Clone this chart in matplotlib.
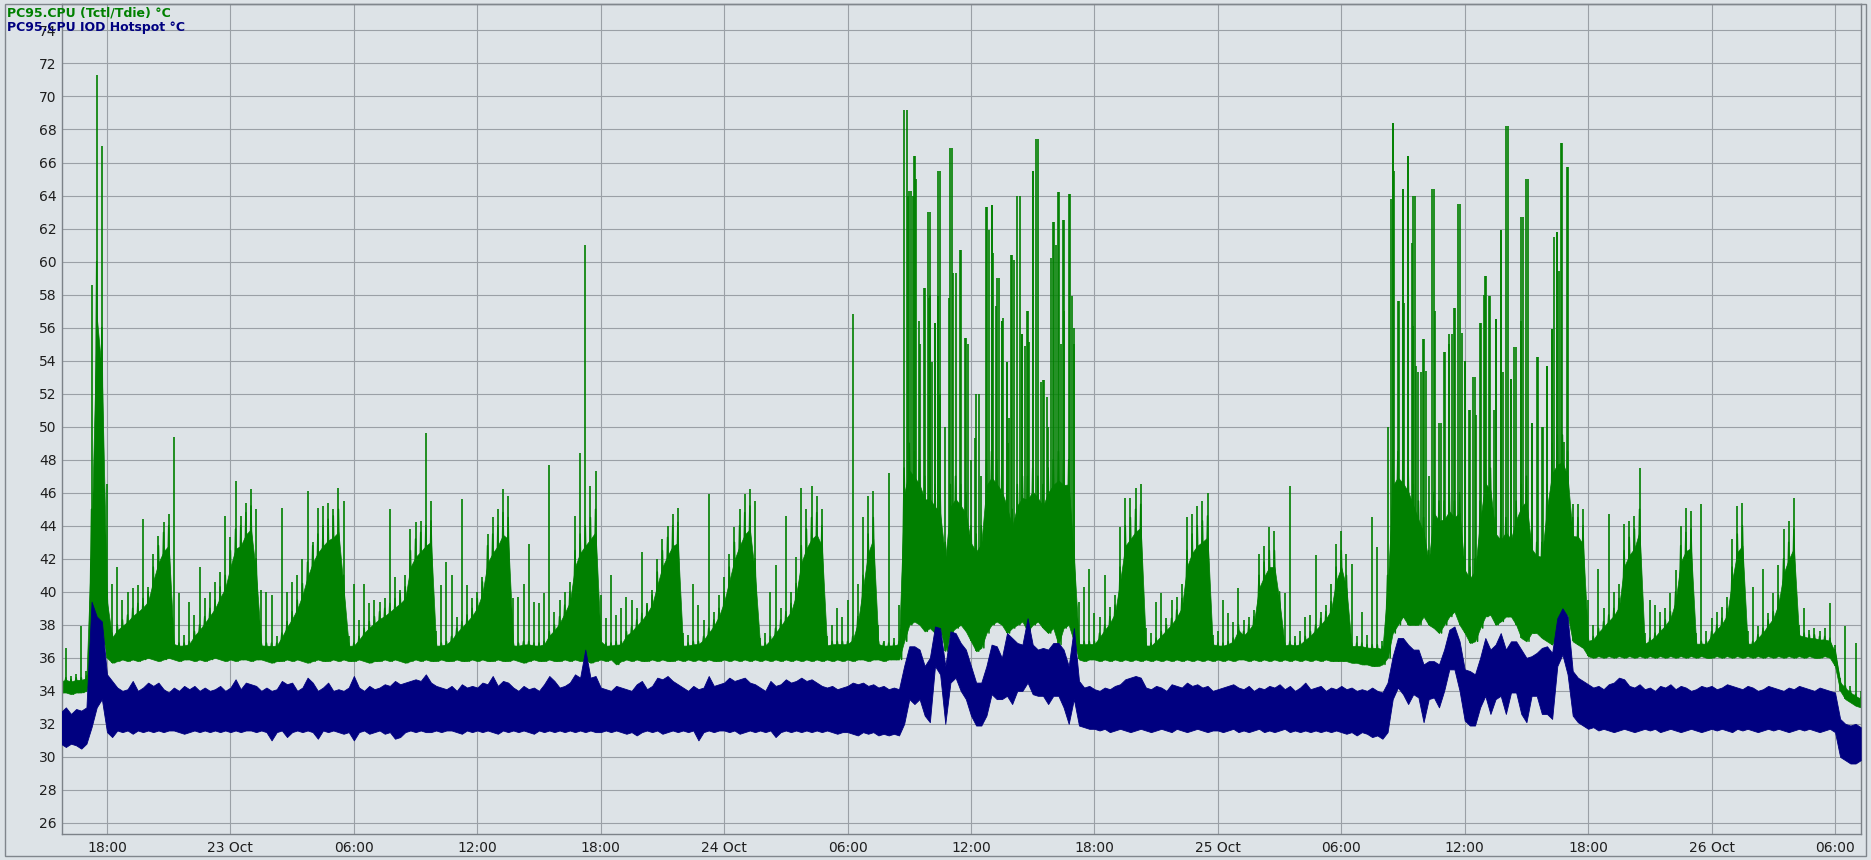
import matplotlib
matplotlib.use("Agg")
import matplotlib.pyplot as plt
import matplotlib.dates as mdates
import pandas as pd
from matplotlib.patches import Rectangle

# sensor log, one sample row per 15 min, 22 Oct 15:45 -> 26 Oct 07:15
start = "2024-10-22 15:45"
green_label = "PC95.CPU (Tctl/Tdie) °C"
blue_label = "PC95.CPU IOD Hotspot °C"
y_ticks = list(range(26, 75, 2))

# Tctl/Tdie: spike tops
green_hi = [
    34.8, 36.6, 34.9, 35.0, 37.9, 35.2, 58.6, 71.3, 67.0,
    46.5, 40.5, 41.5, 39.5, 40.0, 40.2, 40.4, 44.4, 40.3, 42.3, 43.4, 44.2, 44.7, 49.4, 39.9, 37.4, 39.4, 38.6, 41.5, 39.6, 40.0, 40.6, 41.2, 44.6,
    43.3, 46.7, 44.6, 45.4, 46.2, 45.0, 40.1, 40.0, 39.8, 37.3, 45.1, 40.0, 40.6, 41.0, 42.0, 46.1, 43.0, 45.1, 45.2, 45.4, 45.0, 46.3, 45.5, 37.3,
    40.5, 38.3, 40.5, 39.3, 39.5, 39.4, 39.6, 45.0, 40.9, 40.1, 41.0, 43.8, 44.2, 44.3, 49.6, 45.5, 37.6, 40.4, 41.8, 41.0, 38.5, 45.6, 40.4, 39.6,
    40.0, 40.9, 43.5, 44.5, 45.0, 46.2, 45.8, 39.6, 39.7, 40.5, 42.9, 39.4, 39.3, 39.9, 47.7, 38.8, 39.5, 40.0, 40.6, 44.6, 48.4, 61.0, 46.4, 47.3,
    39.8, 38.4, 41.0, 38.6, 39.0, 39.7, 39.5, 39.0, 42.4, 39.3, 40.1, 42.0, 43.2, 44.0, 44.7, 45.1, 37.5, 37.4, 40.5, 39.2, 38.3, 45.9, 38.8, 39.8,
    40.9, 42.3, 43.9, 45.0, 45.9, 46.2, 45.5, 37.2, 37.5, 40.0, 41.6, 39.0, 44.6, 40.0, 42.1, 46.3, 45.0, 46.4, 45.8, 45.0, 37.3, 38.0, 39.0, 38.5,
    39.5, 56.8, 40.5, 44.5, 45.8, 46.1, 38.0, 37.0, 47.2, 37.2, 39.2, 69.2, 64.3, 66.4, 55.0, 58.4, 63.0, 56.3, 65.5, 50.0, 66.9, 59.3, 60.7, 55.4,
    48.0, 52.0, 47.0, 63.3, 63.4, 59.0, 56.4, 53.9, 60.4, 64.0, 55.6, 57.0, 65.5, 67.4, 52.8, 50.0, 62.4, 64.2, 62.5, 64.1, 56.0, 39.4, 40.3, 41.4,
    38.7, 38.5, 41.0, 39.1, 39.8, 43.9, 45.7, 45.7, 46.3, 46.5, 37.8, 37.5, 39.4, 39.9, 38.4, 39.5, 39.7, 40.5, 44.5, 44.7, 45.2, 45.5, 46.0, 37.4,
    37.6, 39.5, 38.7, 38.2, 40.2, 38.3, 38.5, 38.9, 42.3, 42.8, 43.9, 43.7, 38.0, 39.9, 46.4, 37.3, 37.6, 38.5, 38.6, 42.2, 38.8, 39.2, 40.5, 42.9,
    43.7, 42.3, 41.7, 37.3, 38.8, 37.4, 44.5, 42.7, 37.0, 50.0, 68.4, 57.6, 64.4, 66.4, 64.0, 53.3, 55.3, 47.0, 64.4, 50.2, 54.5, 55.6, 57.2, 63.5,
    54.0, 51.0, 53.0, 56.3, 59.1, 57.9, 56.5, 61.9, 68.2, 52.9, 54.8, 62.7, 65.0, 50.2, 54.2, 50.0, 53.7, 55.9, 61.8, 67.2, 65.7, 45.3, 45.3, 45.0,
    39.5, 38.0, 41.4, 39.0, 44.7, 40.0, 40.5, 44.1, 44.3, 44.6, 47.5, 37.5, 39.5, 39.2, 38.8, 39.0, 39.9, 41.3, 44.0, 45.1, 44.9, 37.5, 45.3, 37.6,
    38.4, 38.8, 39.1, 39.7, 43.2, 45.2, 45.4, 37.6, 40.3, 37.9, 41.4, 38.7, 39.9, 41.6, 43.8, 44.3, 45.7, 38.0, 39.0, 37.7, 37.8, 37.6, 37.8, 39.3,
    36.8, 34.8, 37.9, 34.3, 36.9, 34.0,
]

# Tctl/Tdie: top of the dense part
green_mid = [
    34.7, 34.8, 34.7, 34.8, 34.8, 34.9, 45.0, 60.0, 56.0,
    40.0, 37.5, 38.0, 38.3, 38.6, 39.0, 39.3, 39.6, 40.0, 41.5, 42.8, 43.6, 44.0, 37.0, 36.9, 36.9, 37.0, 37.6, 38.0, 38.5, 39.0, 39.5, 40.3, 41.0,
    42.5, 43.8, 44.0, 44.8, 45.2, 42.0, 36.9, 36.9, 36.9, 36.9, 37.5, 38.2, 38.8, 39.5, 40.5, 41.8, 42.8, 43.5, 44.0, 44.4, 44.6, 45.0, 41.0, 36.9,
    36.9, 37.3, 37.8, 38.2, 38.5, 38.8, 39.0, 39.3, 39.6, 39.9, 40.3, 42.5, 43.2, 43.6, 44.0, 44.3, 36.9, 36.9, 37.0, 37.3, 37.8, 38.2, 38.6, 39.0,
    39.6, 40.6, 42.8, 43.5, 44.0, 44.8, 44.5, 36.9, 36.9, 37.0, 37.0, 36.9, 36.9, 37.0, 37.6, 38.0, 38.5, 39.2, 40.0, 42.5, 43.5, 44.0, 44.5, 45.0,
    37.2, 36.9, 36.9, 37.0, 37.0, 37.6, 37.9, 38.3, 38.7, 39.2, 39.8, 41.2, 42.5, 43.3, 44.0, 44.2, 36.9, 36.9, 37.0, 37.0, 37.3, 37.8, 38.3, 39.0,
    40.0, 41.5, 43.0, 44.0, 44.8, 45.2, 42.0, 36.9, 36.9, 37.3, 37.8, 38.3, 38.8, 39.3, 40.5, 42.8, 43.8, 44.5, 44.8, 44.0, 36.9, 37.0, 37.0, 37.0,
    37.0, 37.3, 38.5, 41.0, 43.5, 44.5, 37.0, 36.9, 36.9, 36.9, 37.0, 47.5, 49.0, 48.5, 48.0, 47.0, 47.0, 46.5, 46.0, 43.0, 46.5, 47.0, 46.5, 46.0,
    44.0, 43.5, 44.0, 48.0, 48.5, 48.0, 47.5, 46.5, 45.0, 46.5, 47.0, 47.0, 47.5, 47.0, 46.5, 47.5, 48.0, 48.5, 48.0, 48.0, 43.0, 37.0, 37.0, 37.0,
    37.0, 37.5, 38.0, 38.5, 39.2, 41.5, 44.0, 44.5, 45.0, 45.3, 36.9, 36.9, 37.2, 37.6, 38.0, 38.4, 38.9, 39.6, 42.5, 43.5, 44.0, 44.3, 44.6, 37.0,
    36.9, 36.9, 37.0, 37.2, 38.0, 37.6, 38.0, 38.5, 41.0, 41.8, 42.5, 42.5, 40.0, 36.9, 37.0, 36.9, 37.0, 37.3, 37.6, 38.0, 38.4, 38.8, 39.4, 41.5,
    42.5, 41.0, 36.9, 36.9, 36.9, 36.8, 36.8, 36.8, 36.7, 41.0, 48.0, 48.5, 48.0, 47.5, 46.5, 45.5, 44.5, 42.5, 46.0, 45.5, 45.5, 46.0, 45.5, 46.0,
    42.0, 41.5, 42.0, 45.5, 48.0, 47.5, 44.5, 44.0, 44.5, 44.0, 45.5, 46.5, 47.0, 43.5, 43.0, 43.0, 46.5, 49.0, 49.5, 49.5, 48.5, 44.5, 44.5, 44.0,
    37.2, 37.3, 37.8, 38.2, 38.6, 39.0, 39.6, 42.5, 43.3, 43.8, 45.0, 37.0, 37.2, 37.5, 37.9, 38.3, 38.8, 40.0, 42.8, 43.6, 43.8, 37.0, 37.0, 37.0,
    37.6, 38.0, 38.4, 39.0, 41.5, 43.5, 44.0, 37.0, 37.0, 37.4, 37.8, 38.3, 38.8, 39.8, 42.0, 43.0, 43.8, 37.6, 37.5, 37.4, 37.4, 37.3, 37.3, 37.2,
    36.5, 34.6, 34.3, 34.0, 33.8, 33.6,
]

# Tctl/Tdie: bottom of the band
green_lo = [
    33.9, 33.9, 33.8, 33.9, 33.9, 34.0, 35.0, 38.0, 37.7,
    36.0, 35.7, 35.8, 35.9, 35.8, 35.9, 35.8, 35.9, 36.0, 35.9, 35.8, 35.9, 36.0, 35.9, 35.8, 35.9, 35.9, 35.8, 35.9, 35.8, 35.9, 36.0, 35.9, 35.8,
    35.9, 35.8, 35.9, 35.9, 35.8, 35.9, 35.9, 35.8, 35.7, 35.8, 35.8, 35.9, 35.8, 35.9, 35.8, 35.7, 35.8, 35.9, 35.8, 35.8, 35.9, 35.8, 35.9, 35.8,
    35.8, 35.9, 35.8, 35.7, 35.8, 35.8, 35.9, 35.8, 35.9, 35.8, 35.7, 35.8, 35.9, 35.8, 35.9, 35.8, 35.8, 35.9, 35.8, 35.8, 35.9, 35.8, 35.8, 35.9,
    35.8, 35.9, 35.8, 35.8, 35.9, 35.8, 35.8, 35.9, 35.8, 35.7, 35.8, 35.9, 35.8, 35.8, 35.9, 35.8, 35.8, 35.9, 35.8, 35.9, 35.8, 35.9, 35.7, 35.8,
    35.9, 35.8, 35.9, 35.6, 35.8, 35.9, 35.8, 35.9, 35.8, 35.8, 35.9, 35.8, 35.9, 35.8, 35.8, 35.9, 35.8, 35.9, 35.8, 35.9, 35.8, 35.9, 35.8, 35.8,
    35.9, 35.8, 35.9, 35.8, 35.9, 35.8, 35.9, 35.8, 35.9, 35.8, 35.9, 35.8, 35.9, 35.8, 35.9, 35.8, 35.9, 35.8, 35.9, 35.8, 35.9, 35.8, 35.9, 35.8,
    35.9, 35.8, 35.9, 35.9, 35.8, 35.9, 35.9, 35.8, 35.9, 35.9, 35.9, 37.0, 38.0, 38.2, 38.0, 37.6, 37.8, 37.5, 37.8, 36.4, 37.5, 37.8, 38.0, 37.6,
    37.0, 36.4, 36.6, 37.5, 38.0, 38.2, 38.0, 37.5, 37.8, 38.0, 38.2, 37.6, 38.0, 38.2, 37.8, 37.5, 37.8, 36.8, 37.8, 38.0, 37.0, 35.9, 35.8, 35.9,
    35.9, 35.8, 35.9, 35.8, 35.9, 35.8, 35.9, 35.8, 35.9, 35.8, 35.9, 35.8, 35.9, 35.8, 35.9, 35.8, 35.9, 35.8, 35.9, 35.8, 35.9, 35.8, 35.9, 35.8,
    35.9, 35.8, 35.9, 35.8, 35.9, 35.9, 35.8, 35.9, 35.8, 35.9, 35.8, 35.9, 35.8, 35.9, 35.8, 35.9, 35.8, 35.9, 35.8, 35.9, 35.8, 35.9, 35.8, 35.8,
    35.8, 35.8, 35.7, 35.7, 35.6, 35.6, 35.5, 35.5, 35.6, 36.0, 37.5, 38.0, 38.5, 38.0, 38.0, 38.0, 38.5, 38.0, 37.8, 37.5, 38.0, 38.5, 38.8, 38.0,
    37.5, 36.9, 37.0, 37.8, 38.5, 38.6, 38.0, 38.2, 38.5, 38.5, 38.0, 37.2, 37.0, 37.5, 37.5, 37.2, 37.0, 36.8, 37.5, 38.5, 38.6, 37.0, 36.8, 36.6,
    36.1, 36.0, 36.1, 36.0, 36.1, 36.0, 36.1, 36.0, 36.1, 36.0, 36.1, 36.0, 36.1, 36.0, 36.1, 36.0, 36.1, 36.0, 36.1, 36.0, 36.1, 36.0, 36.1, 36.0,
    36.0, 36.1, 36.0, 36.1, 36.0, 36.1, 36.0, 36.1, 36.0, 36.1, 36.0, 36.1, 36.0, 36.1, 36.0, 36.1, 36.0, 36.1, 36.0, 36.1, 36.0, 36.0, 36.1, 36.0,
    35.5, 34.0, 33.5, 33.3, 33.1, 33.0,
]

# extra spikes read in the two busy spells (time of day, peak)
oct24_spike_times = [
    "08:53", "08:56", "09:05", "09:10", "09:16", "09:21", "09:29", "09:42", "09:55", "09:58",
    "10:00", "10:06", "10:14", "10:23", "10:25", "10:29", "10:55", "11:04", "11:08", "11:28",
    "11:43", "11:52", "12:12", "12:22", "12:47", "12:53", "13:01", "13:05", "13:12", "13:22",
    "13:30", "13:34", "13:45", "13:48", "13:52", "13:58", "14:04", "14:23", "14:29", "14:37",
    "14:42", "14:48", "15:02", "15:10", "15:24", "15:34", "15:43", "15:53", "16:03", "16:08",
    "16:17", "16:22", "16:27", "16:32", "16:50", "16:56", "17:01",
]
oct24_spike_peaks = [
    69.2, 64.0, 64.3, 64.0, 66.4, 65.0, 56.4, 58.4, 63.0, 57.8,
    58.0, 53.9, 56.3, 57.9, 65.5, 52.0, 57.8, 66.9, 59.3, 60.7,
    55.4, 55.0, 49.3, 52.0, 63.3, 61.9, 63.4, 60.5, 57.3, 59.0,
    56.4, 56.6, 53.9, 49.0, 50.5, 60.4, 60.1, 64.0, 55.6, 54.9,
    57.0, 55.1, 65.5, 67.4, 52.7, 52.8, 51.8, 60.2, 62.4, 61.0,
    64.2, 55.0, 62.5, 57.0, 64.1, 57.9, 55.0,
]
oct25_spike_times = [
    "08:24", "08:31", "08:34", "08:49", "08:59", "09:03", "09:16", "09:25", "09:29", "09:35",
    "09:39", "09:52", "09:59", "10:06", "10:26", "10:34", "10:50", "11:02", "11:13", "11:22",
    "11:32", "11:41", "11:51", "12:01", "12:13", "12:25", "12:34", "12:47", "12:56", "13:01",
    "13:11", "13:26", "13:32", "13:45", "13:52", "14:07", "14:14", "14:25", "14:43", "14:49",
    "15:05", "15:16", "15:35", "15:47", "16:01", "16:14", "16:20", "16:28", "16:35", "16:40",
    "16:50", "16:59",
]
oct25_spike_peaks = [
    63.8, 68.4, 65.5, 57.6, 64.4, 57.5, 66.4, 61.1, 56.1, 64.0,
    53.7, 53.3, 55.3, 53.4, 64.4, 57.0, 50.2, 54.5, 55.0, 55.6,
    57.2, 63.5, 55.7, 54.0, 51.0, 53.0, 50.7, 56.3, 58.0, 59.1,
    57.9, 51.0, 56.5, 61.9, 53.3, 68.2, 52.9, 54.8, 56.4, 62.7,
    65.0, 50.2, 54.2, 50.0, 53.7, 55.9, 61.5, 61.8, 59.4, 67.2,
    49.1, 65.7,
]

# IOD hotspot: top and bottom of the noisy band
blue_hi = [
    32.7, 33.0, 32.6, 32.9, 32.8, 33.0, 39.4, 38.5, 38.2,
    35.0, 34.6, 34.2, 34.0, 34.1, 34.6, 34.0, 34.2, 34.5, 34.3, 34.5, 34.1, 33.9, 34.2, 34.0, 34.3, 34.1, 34.3, 34.0, 34.2, 34.0, 34.1, 34.3, 34.0,
    34.2, 34.7, 34.1, 34.5, 34.4, 34.3, 34.0, 34.2, 34.0, 34.1, 34.6, 34.4, 34.5, 34.0, 34.2, 34.8, 34.5, 34.0, 34.2, 34.5, 34.0, 34.1, 34.0, 34.2,
    34.9, 34.2, 34.0, 34.3, 34.1, 34.2, 34.4, 34.3, 34.6, 34.4, 34.5, 34.6, 34.7, 34.6, 35.0, 34.5, 34.3, 34.2, 34.1, 34.3, 34.0, 34.4, 34.2, 34.3,
    34.2, 34.5, 34.4, 34.9, 34.3, 34.6, 34.5, 34.2, 34.0, 34.3, 34.1, 34.2, 34.0, 34.4, 34.9, 34.6, 34.2, 34.3, 34.5, 35.0, 34.8, 36.5, 34.8, 34.9,
    34.2, 34.1, 34.0, 34.3, 34.2, 34.1, 34.0, 34.4, 34.6, 34.1, 34.3, 34.8, 34.7, 34.9, 34.6, 34.4, 34.2, 34.0, 34.3, 34.1, 34.2, 34.9, 34.3, 34.4,
    34.5, 34.8, 34.6, 34.7, 34.8, 34.5, 34.4, 34.2, 34.0, 34.6, 34.3, 34.4, 34.7, 34.5, 34.6, 34.8, 34.6, 34.7, 34.5, 34.3, 34.2, 34.3, 34.1, 34.2,
    34.3, 34.5, 34.4, 34.5, 34.3, 34.4, 34.2, 34.3, 34.1, 34.2, 34.1, 35.5, 36.7, 36.7, 36.5, 35.5, 36.0, 37.9, 37.8, 35.5, 37.6, 37.5, 36.9, 36.5,
    35.5, 34.5, 34.5, 35.5, 36.8, 36.7, 36.0, 37.5, 37.2, 36.9, 36.8, 38.4, 36.8, 36.5, 36.6, 36.5, 36.9, 36.9, 36.5, 35.5, 37.8, 34.6, 34.2, 34.3,
    34.1, 34.0, 34.2, 34.1, 34.3, 34.4, 34.7, 34.8, 34.9, 34.8, 34.2, 34.1, 34.3, 34.2, 34.0, 34.4, 34.3, 34.2, 34.5, 34.3, 34.4, 34.2, 34.3, 34.0,
    34.1, 34.2, 34.3, 34.4, 34.2, 34.1, 34.3, 34.0, 34.2, 34.1, 34.3, 34.2, 34.4, 34.1, 34.3, 34.0, 34.2, 34.5, 34.1, 34.2, 34.3, 34.0, 34.2, 34.1,
    34.3, 34.1, 34.2, 34.0, 34.1, 34.0, 34.2, 34.0, 33.9, 34.5, 36.1, 37.2, 37.2, 36.8, 36.5, 36.5, 35.6, 35.8, 35.8, 35.6, 36.5, 37.7, 37.9, 37.0,
    35.3, 35.2, 35.0, 36.0, 37.2, 36.5, 36.8, 37.5, 36.5, 37.0, 37.0, 36.5, 36.0, 36.1, 36.3, 36.6, 36.7, 36.3, 38.4, 39.0, 38.5, 35.2, 34.8, 34.6,
    34.4, 34.2, 34.3, 34.1, 34.4, 34.5, 34.8, 34.7, 34.3, 34.2, 34.4, 34.1, 34.2, 34.0, 34.3, 34.2, 34.4, 34.1, 34.3, 34.2, 34.0, 34.1, 34.3, 34.2,
    34.3, 34.1, 34.2, 34.4, 34.3, 34.2, 34.1, 34.3, 34.2, 34.0, 34.1, 34.3, 34.2, 34.1, 34.0, 34.2, 34.1, 34.3, 34.2, 34.1, 34.0, 34.2, 34.1, 34.0,
    33.9, 32.3, 32.0, 31.9, 32.0, 31.8,
]

blue_lo = [
    30.8, 30.6, 30.8, 30.7, 30.5, 30.8, 31.8, 33.0, 33.5,
    31.5, 31.2, 31.6, 31.5, 31.6, 31.4, 31.6, 31.5, 31.6, 31.5, 31.6, 31.5, 31.6, 31.6, 31.5, 31.4, 31.5, 31.6, 31.5, 31.6, 31.5, 31.6, 31.5, 31.6,
    31.5, 31.6, 31.5, 31.6, 31.6, 31.5, 31.6, 31.5, 31.0, 31.5, 31.6, 31.2, 31.5, 31.6, 31.5, 31.6, 31.5, 31.1, 31.6, 31.5, 31.6, 31.5, 31.4, 31.5,
    31.0, 31.5, 31.6, 31.4, 31.5, 31.6, 31.4, 31.5, 31.1, 31.2, 31.5, 31.6, 31.5, 31.6, 31.5, 31.5, 31.6, 31.5, 31.6, 31.6, 31.5, 31.4, 31.6, 31.5,
    31.6, 31.5, 31.6, 31.5, 31.4, 31.6, 31.5, 31.6, 31.5, 31.6, 31.5, 31.4, 31.6, 31.5, 31.6, 31.5, 31.6, 31.5, 31.6, 31.5, 31.6, 31.5, 31.6, 31.5,
    31.5, 31.6, 31.5, 31.6, 31.5, 31.4, 31.5, 31.3, 31.5, 31.6, 31.5, 31.6, 31.4, 31.5, 31.6, 31.5, 31.6, 31.5, 31.6, 31.0, 31.5, 31.6, 31.5, 31.6,
    31.6, 31.5, 31.6, 31.4, 31.5, 31.6, 31.5, 31.6, 31.5, 31.6, 31.2, 31.5, 31.6, 31.5, 31.6, 31.5, 31.6, 31.5, 31.6, 31.5, 31.6, 31.5, 31.4, 31.5,
    31.5, 31.4, 31.3, 31.5, 31.4, 31.5, 31.3, 31.4, 31.3, 31.4, 31.3, 32.0, 33.5, 33.2, 33.5, 32.5, 32.1, 35.5, 35.0, 32.0, 34.5, 34.8, 34.0, 33.5,
    32.5, 31.9, 31.9, 32.5, 33.8, 33.5, 33.5, 33.7, 33.2, 34.0, 34.0, 34.5, 33.8, 33.7, 33.7, 33.2, 33.7, 33.7, 33.0, 32.0, 33.5, 31.9, 31.8, 31.7,
    31.7, 31.6, 31.7, 31.5, 31.6, 31.7, 31.6, 31.5, 31.6, 31.7, 31.6, 31.5, 31.6, 31.7, 31.6, 31.5, 31.7, 31.6, 31.5, 31.6, 31.7, 31.6, 31.5, 31.6,
    31.6, 31.5, 31.6, 31.7, 31.5, 31.6, 31.5, 31.6, 31.7, 31.5, 31.6, 31.5, 31.6, 31.7, 31.5, 31.6, 31.5, 31.6, 31.5, 31.6, 31.5, 31.6, 31.5, 31.6,
    31.5, 31.4, 31.5, 31.3, 31.5, 31.4, 31.2, 31.3, 31.1, 31.5, 33.5, 34.2, 33.8, 33.2, 33.8, 33.6, 32.1, 33.5, 33.6, 33.0, 34.0, 35.3, 35.3, 34.0,
    32.2, 31.9, 31.9, 33.0, 33.7, 32.6, 33.5, 33.7, 32.6, 33.9, 33.9, 32.6, 32.1, 33.7, 33.7, 32.6, 32.6, 32.3, 35.5, 36.2, 35.0, 32.5, 32.1, 31.9,
    31.7, 31.8, 31.6, 31.7, 31.6, 31.5, 31.6, 31.7, 31.6, 31.5, 31.6, 31.7, 31.6, 31.7, 31.5, 31.6, 31.7, 31.6, 31.5, 31.6, 31.7, 31.6, 31.5, 31.6,
    31.7, 31.6, 31.7, 31.6, 31.5, 31.7, 31.6, 31.7, 31.6, 31.5, 31.6, 31.7, 31.6, 31.7, 31.6, 31.5, 31.6, 31.7, 31.6, 31.7, 31.6, 31.5, 31.6, 31.7,
    31.5, 30.0, 29.8, 29.6, 29.6, 29.8,
]

BG = "#dde3e7"
GREEN = "#008000"
NAVY = "#000080"
GRID = "#9aa0a6"
W, H = 1871, 860

t = pd.date_range(start, periods=len(green_hi), freq="15min")
half = pd.Timedelta("7.5min")

# saw-tooth between the dense top and the floor gives the mass a spiky edge
saw_t, saw_v = [], []
for ti, top, low in zip(t, green_mid, green_lo):
    saw_t += [ti, ti + half]
    saw_v += [top, low]
solid_top = [lo + 0.85 * (m - lo) for lo, m in zip(green_lo, green_mid)]

fig = plt.figure(figsize=(W / 100, H / 100), dpi=100, facecolor=BG)
ax = fig.add_axes([62 / W, 1 - 834 / H, (1861 - 62) / W, (834 - 4) / H])
ax.set_facecolor(BG)

ax.fill_between(t, green_lo, solid_top, color=GREEN, lw=0.5, zorder=2)
ax.plot(saw_t, saw_v, color=GREEN, lw=1.1, zorder=2)
ax.vlines(t, green_lo, green_hi, color=GREEN, lw=1.2, zorder=2)
for day, times, peaks in [("2024-10-24", oct24_spike_times, oct24_spike_peaks),
                          ("2024-10-25", oct25_spike_times, oct25_spike_peaks)]:
    ts = pd.to_datetime([f"{day} {s}" for s in times])
    ax.vlines(ts, 40, peaks, color=GREEN, lw=1.2, zorder=2)

ax.fill_between(t, blue_lo, blue_hi, color=NAVY, lw=0.6, zorder=3)

ax.set_xlim(pd.Timestamp("2024-10-22 15:48:45"), pd.Timestamp("2024-10-26 07:15:50"))
ax.set_ylim(25.33, 75.6)
ax.set_yticks(y_ticks)

ax.xaxis.set_major_locator(mdates.HourLocator(byhour=[0, 6, 12, 18]))
ax.xaxis.set_major_formatter(
    plt.FuncFormatter(lambda v, pos: mdates.num2date(v).strftime("%d %b")
                      if mdates.num2date(v).hour == 0 else mdates.num2date(v).strftime("%H:%M")))

ax.grid(True, color=GRID, lw=0.8)
ax.set_axisbelow(True)
ax.tick_params(length=0, labelsize=10, colors="#1e1e1e")
ax.tick_params(axis="x", pad=5)
ax.tick_params(axis="y", pad=4)
for s in ax.spines.values():
    s.set_color("#7c8288")
    s.set_linewidth(1.0)

# outer frame of the panel
fig.add_artist(Rectangle((5 / W, 4 / H), 1861 / W, 852 / H, transform=fig.transFigure,
                         fill=False, ec="#80868c", lw=1.0))

fig.text(7 / W, 1 - 12.5 / H, green_label, color=GREEN, fontsize=9, fontweight="bold",
         va="center", ha="left", zorder=5)
fig.text(7 / W, 1 - 27 / H, blue_label, color=NAVY, fontsize=9, fontweight="bold",
         va="center", ha="left", zorder=5)

fig.savefig("out.png", dpi=100, facecolor=BG)
